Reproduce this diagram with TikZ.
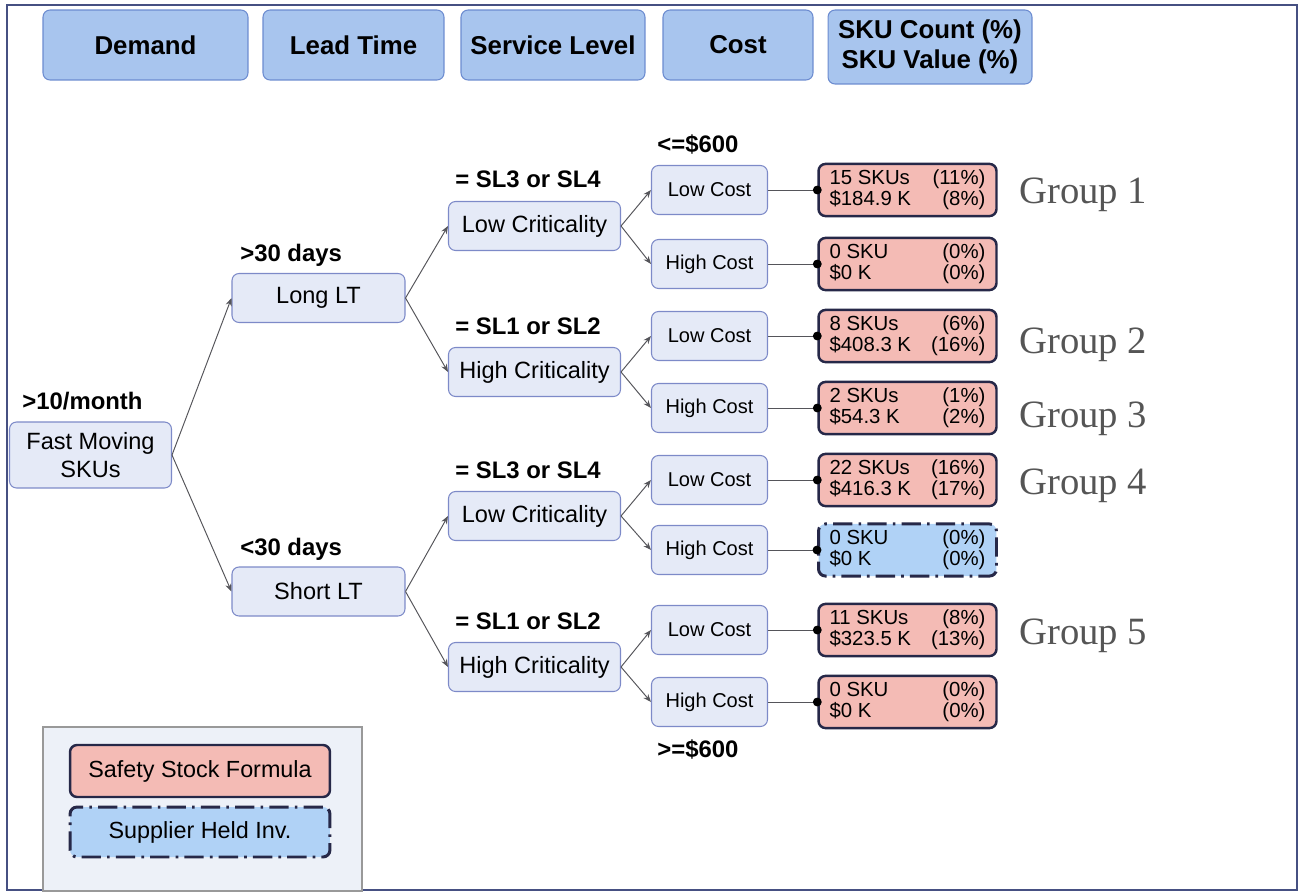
\documentclass[tikz,border=0pt]{standalone}
\usepackage{fontspec}
\setmainfont{Liberation Sans}
\newfontfamily\grpfont{Liberation Serif}
\usetikzlibrary{arrows.meta}

\definecolor{hdrfill}{RGB}{168,197,238}
\definecolor{hdrline}{RGB}{108,140,208}
\definecolor{boxfill}{RGB}{229,234,247}
\definecolor{boxline}{RGB}{125,138,200}
\definecolor{ssfill}{RGB}{244,187,181}
\definecolor{shfill}{RGB}{176,210,246}
\definecolor{navy}{RGB}{38,40,72}
\definecolor{legfill}{RGB}{237,241,248}
\definecolor{framec}{RGB}{70,80,130}
\definecolor{linegray}{RGB}{85,85,90}
\definecolor{grpgray}{RGB}{85,85,85}

% two rows of a result box: count and value, each with its share
\newcommand{\skurows}[4]{\makebox[3.12cm]{#1\hfill#2}\\\makebox[3.12cm]{#3\hfill#4}}

\begin{document}
\begin{tikzpicture}[x=0.02cm, y=-0.02cm,
  hdr/.style={draw=hdrline, fill=hdrfill, rounded corners=4pt, line width=0.6pt,
    font=\fontsize{14.7}{17}\selectfont\bfseries, align=center, minimum height=1.4cm},
  tree/.style={draw=boxline, fill=boxfill, rounded corners=4pt, line width=0.6pt,
    font=\fontsize{13.4}{15.5}\selectfont, align=center, minimum height=0.98cm},
  cost/.style={tree, font=\fontsize{11.4}{13}\selectfont, minimum width=2.32cm},
  ssbox/.style={draw=navy, fill=ssfill, line width=1.4pt, rounded corners=4pt,
    font=\fontsize{11.6}{12.2}\selectfont, align=center, minimum width=3.56cm, minimum height=1.04cm},
  shbox/.style={ssbox, fill=shfill, line width=1.7pt,
    dash pattern=on 11pt off 3.5pt on 1.5pt off 3.5pt},
  lbl/.style={font=\fontsize{13.6}{15}\selectfont\bfseries, anchor=base west, inner sep=0pt},
  grp/.style={font=\grpfont\fontsize{22}{24}\selectfont, text=grpgray, anchor=mid west, inner sep=0pt},
  arr/.style={draw=linegray, line width=0.55pt, -{Stealth[length=4.5pt,width=3.5pt]}},
  dotline/.style={draw=linegray, line width=0.55pt, -{Circle[length=5pt,fill=black,color=black]}, shorten >=-2.5pt}
]

\useasboundingbox (0,0) rectangle (1301,892);
\draw[framec, line width=1pt] (7,5) rectangle (1297,890);

% column headers
\node[hdr, minimum width=4.1cm]  (hdem)  at (145.5,45) {Demand};
\node[hdr, minimum width=3.62cm] (hlt)   at (353.5,45) {Lead Time};
\node[hdr, minimum width=3.68cm] (hsl)   at (553,45)   {Service Level};
\node[hdr, minimum width=3.0cm]  (hcost) at (738,45)   {Cost};
\node[hdr, minimum width=4.08cm, minimum height=1.48cm] (hsku) at (930,47) {SKU Count (\%)\\SKU Value (\%)};

% demand and lead time
\node[tree, minimum width=3.24cm, minimum height=1.32cm] (fast) at (90.5,455) {Fast Moving\\SKUs};
\node[tree, minimum width=3.46cm] (long)  at (318.5,298)   {Long LT};
\node[tree, minimum width=3.46cm] (short) at (318.5,591.5) {Short LT};

% service level
\node[tree, minimum width=3.44cm] (lcA) at (534.5,226) {Low Criticality};
\node[tree, minimum width=3.44cm] (hcA) at (534.5,372) {High Criticality};
\node[tree, minimum width=3.44cm] (lcB) at (534.5,516) {Low Criticality};
\node[tree, minimum width=3.44cm] (hcB) at (534.5,667) {High Criticality};

% cost
\node[cost] (c1) at (709.5,190) {Low Cost};
\node[cost] (c2) at (709.5,264) {High Cost};
\node[cost] (c3) at (709.5,336) {Low Cost};
\node[cost] (c4) at (709.5,408) {High Cost};
\node[cost] (c5) at (709.5,480) {Low Cost};
\node[cost] (c6) at (709.5,550) {High Cost};
\node[cost] (c7) at (709.5,630) {Low Cost};
\node[cost] (c8) at (709.5,702) {High Cost};

% results
\node[ssbox] (r1) at (907.5,190) {\skurows{15 SKUs}{(11\%)}{\$184.9 K}{(8\%)}};
\node[ssbox] (r2) at (907.5,264) {\skurows{0 SKU}{(0\%)}{\$0 K}{(0\%)}};
\node[ssbox] (r3) at (907.5,336) {\skurows{8 SKUs}{(6\%)}{\$408.3 K}{(16\%)}};
\node[ssbox] (r4) at (907.5,408) {\skurows{2 SKUs}{(1\%)}{\$54.3 K}{(2\%)}};
\node[ssbox] (r5) at (907.5,480) {\skurows{22 SKUs}{(16\%)}{\$416.3 K}{(17\%)}};
\node[shbox] (r6) at (907.5,550) {\skurows{0 SKU}{(0\%)}{\$0 K}{(0\%)}};
\node[ssbox] (r7) at (907.5,630) {\skurows{11 SKUs}{(8\%)}{\$323.5 K}{(13\%)}};
\node[ssbox] (r8) at (907.5,702) {\skurows{0 SKU}{(0\%)}{\$0 K}{(0\%)}};

% branch labels
\node[lbl] (lmonth) at (22,409)  {>10/month};
\node[lbl] (llong)  at (240,261) {>30 days};
\node[lbl] (lshort) at (240,555) {<30 days};
\node[lbl] (lsl1)   at (455,187) {= SL3 or SL4};
\node[lbl] (lsl2)   at (455,334) {= SL1 or SL2};
\node[lbl] (lsl3)   at (455,478) {= SL3 or SL4};
\node[lbl] (lsl4)   at (455,629) {= SL1 or SL2};
\node[lbl] (llow)   at (657,153) {<=\$600};
\node[lbl] (lhigh)  at (657,757) {>=\$600};

% groups
\node[grp] (g1) at (1019,199) {Group 1};
\node[grp] (g2) at (1019,349) {Group 2};
\node[grp] (g3) at (1019,423) {Group 3};
\node[grp] (g4) at (1019,490) {Group 4};
\node[grp] (g5) at (1019,640) {Group 5};

% tree connectors
\draw[arr] (fast.east) -- (long.west);
\draw[arr] (fast.east) -- (short.west);
\draw[arr] (long.east) -- (lcA.west);
\draw[arr] (long.east) -- (hcA.west);
\draw[arr] (short.east) -- (lcB.west);
\draw[arr] (short.east) -- (hcB.west);
\draw[arr] (lcA.east) -- (c1.west);
\draw[arr] (lcA.east) -- (c2.west);
\draw[arr] (hcA.east) -- (c3.west);
\draw[arr] (hcA.east) -- (c4.west);
\draw[arr] (lcB.east) -- (c5.west);
\draw[arr] (lcB.east) -- (c6.west);
\draw[arr] (hcB.east) -- (c7.west);
\draw[arr] (hcB.east) -- (c8.west);

\foreach \i in {1,...,8}
  \draw[dotline] (c\i.east) -- (r\i.west);

% legend
\draw[draw=gray!80, fill=legfill, line width=0.6pt] (43,727) rectangle (362,891);
\node[ssbox, minimum width=5.2cm, font=\fontsize{13.3}{15}\selectfont] (legss) at (200,771) {Safety Stock Formula};
\node[shbox, minimum width=5.2cm, minimum height=1.0cm, font=\fontsize{13.3}{15}\selectfont] (legsh) at (200,832) {Supplier Held Inv.};

\end{tikzpicture}
\end{document}
